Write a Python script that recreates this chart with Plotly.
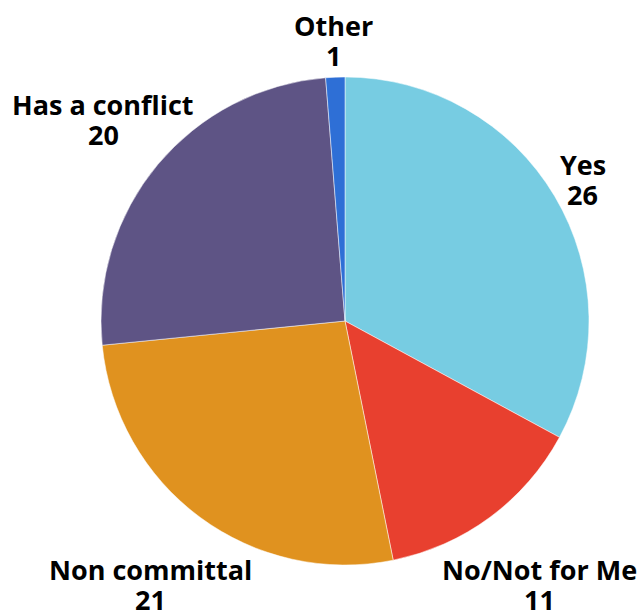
import math
import plotly.graph_objects as go

labels = ["Yes", "No/Not for Me", "Non committal", "Has a conflict", "Other"]
values = [26, 11, 21, 20, 1]
colors = ["#77CCE2", "#E8402F", "#E0921F", "#5E5485", "#2E6FD6"]

# style: radial distance of each label's centre, in pie radii
label_dist = [1.135, 1.344, 1.344, 1.291, 1.152]

W, H = 638, 611
cx, cy, R = 345, 321, 244  # pie centre / radius in figure pixels
line_gap = 30              # px between the two label lines

fig = go.Figure(go.Pie(
    labels=labels,
    values=values,
    sort=False,
    direction="clockwise",
    rotation=0,
    marker=dict(colors=colors, line=dict(color="white", width=0.5)),
    textinfo="none",
    hoverinfo="label+value",
    showlegend=False,
    domain=dict(x=[(cx - R) / W, (cx + R) / W], y=[1 - (cy + R) / H, 1 - (cy - R) / H]),
))

font = dict(family="Open Sans", size=27, color="black", weight="bold")
total = sum(values)
cum = 0
annotations = []
for lab, v, d in zip(labels, values, label_dist):
    mid = (cum + v / 2) / total * 2 * math.pi
    cum += v
    px = cx + d * R * math.sin(mid)
    py = cy - d * R * math.cos(mid)
    for txt, dy in ((lab, -line_gap / 2), (str(v), line_gap / 2)):
        annotations.append(dict(
            x=px / W, y=1 - (py + dy) / H, xref="paper", yref="paper",
            text=txt, showarrow=False,
            xanchor="center", yanchor="middle", align="center",
            font=font,
        ))

fig.update_layout(
    width=W, height=H,
    margin=dict(l=0, r=0, t=0, b=0),
    paper_bgcolor="white",
    plot_bgcolor="white",
    annotations=annotations,
)
fig.write_html(
    "out.html",
    config={"displayModeBar": False},
    post_script="document.body.style.margin='0';document.body.style.overflow='hidden';",
)
